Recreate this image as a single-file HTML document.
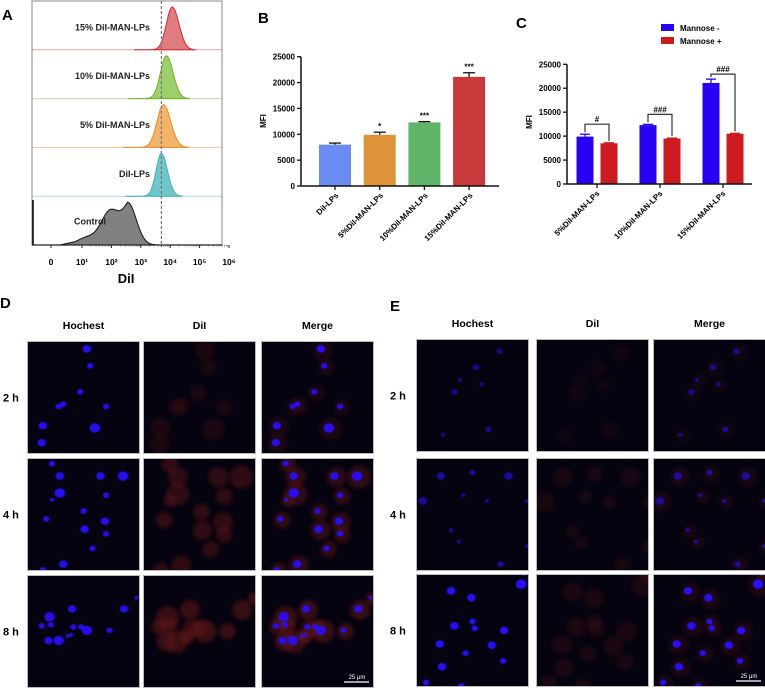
<!DOCTYPE html>
<html><head><meta charset="utf-8">
<style>
html,body{margin:0;padding:0;background:#fff;}
svg{display:block;font-family:"Liberation Sans",Arial,sans-serif;}
</style></head>
<body>
<svg id="fig" width="765" height="690" viewBox="0 0 765 690">
<defs>
<filter id="blurR" x="-50%" y="-50%" width="200%" height="200%"><feGaussianBlur stdDeviation="2"/></filter>
<filter id="blurB" x="-50%" y="-50%" width="200%" height="200%"><feGaussianBlur stdDeviation="0.5"/></filter>
</defs>
<g id="panelA"></g>
<g id="panelB"></g>
<g id="panelC"></g>
<g id="panelD"></g>
<g id="panelE"></g>
</svg>
<script>
// ---------- data ----------
const histLabels = ["15% DiI-MAN-LPs","10% DiI-MAN-LPs","5% DiI-MAN-LPs","DiI-LPs","Control"];
const histPeaks = [4.07, 3.87, 3.77, 3.7, 2.55];   // log10 of peak
const histWidths = [0.2, 0.2, 0.22, 0.18, 0.45];
const histFill = ["#e07b80","#9fcf6a","#f2b36b","#6fc7c9","#808080"];
const histLine = ["#d7262e","#69b52a","#ee8a22","#3ab5b8","#111111"];
const histTicks = ["0","10¹","10²","10³","10⁴","10⁵","10⁶"];

const bCats = ["DiI-LPs","5%DiI-MAN-LPs","10%DiI-MAN-LPs","15%DiI-MAN-LPs"];
const bVals = [8000, 9900, 12300, 21100];
const bErr = [300, 500, 150, 800];
const bSig = ["", "*", "***", "***"];
const bColors = ["#6a8cf0","#dd933a","#5fb46a","#c9383b"];
const yTicks = [0,5000,10000,15000,20000,25000];

const cCats = ["5%DiI-MAN-LPs","10%DiI-MAN-LPs","15%DiI-MAN-LPs"];
const cMinus = [9900, 12300, 21100];
const cMinusErr = [500, 150, 800];
const cPlus = [8500, 9500, 10500];
const cPlusErr = [100, 80, 80];
const cSig = ["#","###","###"];

const NS="http://www.w3.org/2000/svg";
function mk(parent,tag,attrs,text){const e=document.createElementNS(NS,tag);for(const k in attrs)e.setAttribute(k,attrs[k]);if(text!==undefined)e.textContent=text;parent.appendChild(e);return e;}

// ---------- Panel A ----------
(function(){
const g=document.getElementById('panelA');
const t=mk(g,'text',{x:2,y:20,'font-size':15,'font-weight':'bold'},'A');


const X0=32,X1=222,Y0=1,Y1=245;
const lx=v=>v<=0?51:82+(v-1)*29.4;
const stripH=(Y1-Y0)/5;
for(let i=0;i<5;i++){
  const top=Y0+i*stripH, base=top+stripH;
  const pk=histPeaks[i], w=histWidths[i];
  let d=`M${lx(pk-4*w-0.5)},${base}`;
  for(let s=-4;s<=4;s+=0.1){
    let v=pk+s*w;
    let hgt;
    if(i===4){
      hgt = s<0 ? Math.exp(-s*s/6)*(1+0.15*Math.sin(s*3)) : Math.exp(-s*s*1.2);
    } else hgt=Math.exp(-s*s/2);
    if(i!==4 && s>0) hgt=Math.exp(-s*s/2.6);
    d+=` L${lx(v).toFixed(1)},${(base-hgt*(stripH-6)).toFixed(1)}`;
  }
  d+=` L${lx(pk+4*w)},${base} Z`;
  const p=mk(g,'path',{d:d,fill:histFill[i],stroke:histLine[i],'stroke-width':1});
  
  
  if(i<4){
    const l=mk(g,'line',{x1:X0,x2:X1,y1:base,y2:base,stroke:histLine[i],'stroke-opacity':0.45,'stroke-width':1});
    
    
  }
  const lab=mk(g,'text',{x:i===4?106:150,y:top+stripH/2+(i===4?4:5),'font-size':9,'font-weight':'bold','text-anchor':'end',fill:'#222'},histLabels[i]);
  
  
}
const fr=mk(g,'rect',{x:X0,y:Y0,width:X1-X0,height:Y1-Y0,fill:'none',stroke:'#888','stroke-width':1});


const ax=mk(g,'line',{x1:X0,x2:X1,y1:Y1,y2:Y1,stroke:'#222','stroke-width':1.2});


mk(g,'line',{x1:X0+1,x2:X0+1,y1:200,y2:Y1,stroke:'#000','stroke-width':1.5});
const dl=mk(g,'line',{x1:lx(3.7),x2:lx(3.7),y1:Y0,y2:Y1+2,stroke:'#777','stroke-width':1.2,'stroke-dasharray':'3,2'});


for(let k=0;k<histTicks.length;k++){
  const x=lx(k);
  mk(g,'line',{x1:x,x2:x,y1:Y1,y2:Y1+3,stroke:'#222'});
  for(let m=2;m<10 && k>0 && k<6;m++){const xm=lx(k+Math.log10(m));mk(g,'line',{x1:xm,x2:xm,y1:Y1,y2:Y1+1.5,stroke:'#444','stroke-width':0.6});}
  const tl=mk(g,'text',{x:x,y:265,'font-size':8.5,'font-weight':'bold','text-anchor':'middle'},histTicks[k]);
  
  
}
const xt=mk(g,'text',{x:126,y:283,'font-size':13,'font-weight':'bold','text-anchor':'middle'},'DiI');


})();

// ---------- Panel B ----------
(function(){
const g=document.getElementById('panelB');
const t=mk(g,'text',{x:258,y:23,'font-size':15,'font-weight':'bold'},'B');


const X0=301,X1=499,Yb=186,Yt=56.7,max=25000;
const y=v=>Yb-(v/max)*(Yb-Yt);
const cx=i=>335+i*44.7;
yTicks.forEach(v=>{
  mk(g,'line',{x1:X0-4,x2:X0,y1:y(v),y2:y(v),stroke:'#111','stroke-width':1.3});
  const tl=mk(g,'text',{x:X0-6,y:y(v)+3,'font-size':8,'font-weight':'bold','text-anchor':'end'},v);
  
  
});
bVals.forEach((v,i)=>{
  const r=mk(g,'rect',{x:cx(i)-16,y:y(v),width:32,height:Yb-y(v),fill:bColors[i]});
  
  
  const ye=y(v+bErr[i]);
  mk(g,'line',{x1:cx(i),x2:cx(i),y1:y(v),y2:ye,stroke:'#111','stroke-width':1.3});
  mk(g,'line',{x1:cx(i)-6,x2:cx(i)+6,y1:ye,y2:ye,stroke:'#111','stroke-width':1.3});
  if(bSig[i]){const s=mk(g,'text',{x:cx(i),y:ye-3,'font-size':8,'font-weight':'bold','text-anchor':'middle'},bSig[i]);
    
    }
  mk(g,'line',{x1:cx(i),x2:cx(i),y1:Yb,y2:Yb+4,stroke:'#111','stroke-width':1.3});
  const xl=mk(g,'text',{x:0,y:0,'font-size':8,'font-weight':'bold','text-anchor':'end',transform:`translate(${cx(i)+4},${Yb+10}) rotate(-45)`},bCats[i]);
  
  
});
mk(g,'line',{x1:X0,x2:X0,y1:Yt,y2:Yb,stroke:'#111','stroke-width':1.5});
mk(g,'line',{x1:X0,x2:X1,y1:Yb,y2:Yb,stroke:'#111','stroke-width':1.5});
const yt=mk(g,'text',{x:0,y:0,'font-size':8,'font-weight':'bold','text-anchor':'middle',transform:'translate(266,121) rotate(-90)'},'MFI');


})();

// ---------- Panel C ----------
(function(){
const g=document.getElementById('panelC');
const t=mk(g,'text',{x:516,y:28,'font-size':15,'font-weight':'bold'},'C');


const X0=567,X1=752,Yb=184,Yt=64.3,max=25000;
const y=v=>Yb-(v/max)*(Yb-Yt);
const gx=i=>597+i*63;
yTicks.forEach(v=>{
  mk(g,'line',{x1:X0-4,x2:X0,y1:y(v),y2:y(v),stroke:'#111','stroke-width':1.3});
  const tl=mk(g,'text',{x:X0-6,y:y(v)+3,'font-size':8,'font-weight':'bold','text-anchor':'end'},v);
  
  
});
cCats.forEach((c,i)=>{
  const bx=gx(i)-12, rx=gx(i)+12;
  const b=mk(g,'rect',{x:bx-8.5,y:y(cMinus[i]),width:17,height:Yb-y(cMinus[i]),fill:'#2a00f5'});
  
  
  const r=mk(g,'rect',{x:rx-8.5,y:y(cPlus[i]),width:17,height:Yb-y(cPlus[i]),fill:'#cc1a1f'});
  
  
  const e1=y(cMinus[i]+cMinusErr[i]);
  mk(g,'line',{x1:bx,x2:bx,y1:y(cMinus[i]),y2:e1,stroke:'#2a00f5','stroke-width':1.3});
  mk(g,'line',{x1:bx-5,x2:bx+5,y1:e1,y2:e1,stroke:'#2a00f5','stroke-width':1.3});
  const e2=y(cPlus[i]+cPlusErr[i]);
  mk(g,'line',{x1:rx-5,x2:rx+5,y1:e2,y2:e2,stroke:'#cc1a1f','stroke-width':1.3});
  const top=y(Math.max(cMinus[i]+cMinusErr[i],cPlus[i]))-(i===2?5:10);
  const br=mk(g,'path',{d:`M${bx},${e1-2} V${top} H${rx} V${e2-2}`,fill:'none',stroke:'#333','stroke-width':1.2});
  
  
  const s=mk(g,'text',{x:gx(i),y:top-2,'font-size':8,'font-weight':'bold','text-anchor':'middle'},cSig[i]);
  
  
  mk(g,'line',{x1:gx(i),x2:gx(i),y1:Yb,y2:Yb+4,stroke:'#111','stroke-width':1.3});
  const xl=mk(g,'text',{x:0,y:0,'font-size':8,'font-weight':'bold','text-anchor':'end',transform:`translate(${gx(i)+3},${Yb+10}) rotate(-45)`},c);
  
  
});
mk(g,'line',{x1:X0,x2:X0,y1:Yt,y2:Yb,stroke:'#111','stroke-width':1.5});
mk(g,'line',{x1:X0,x2:X1,y1:Yb,y2:Yb,stroke:'#111','stroke-width':1.5});
const yt=mk(g,'text',{x:0,y:0,'font-size':8,'font-weight':'bold','text-anchor':'middle',transform:'translate(532,122) rotate(-90)'},'MFI');


const l1=mk(g,'rect',{x:661,y:24,width:13,height:7,fill:'#2a00f5'});


const l2=mk(g,'rect',{x:661,y:37,width:13,height:7,fill:'#cc1a1f'});


const t1=mk(g,'text',{x:680,y:31,'font-size':8,'font-weight':'bold'},'Mannose -');


const t2=mk(g,'text',{x:680,y:44,'font-size':8,'font-weight':'bold'},'Mannose +');


})();

// ---------- Microscopy ----------
const dCells=[
 [[0.53,0.07,4],[0.56,0.22,3],[0.47,0.45,3],[0.28,0.58,3],[0.32,0.56,3],[0.7,0.58,3],[0.14,0.75,4],[0.6,0.77,5],[0.13,0.9,4]],
 [[0.22,0.05,3],[0.29,0.16,4],[0.65,0.16,4],[0.85,0.16,5],[0.29,0.31,5],[0.7,0.33,3],[0.22,0.37,2],[0.5,0.47,3],[0.17,0.54,3],[0.51,0.63,4],[0.69,0.56,4],[0.7,0.67,3],[0.58,0.8,3],[0.32,0.94,4],[0.14,0.99,3]],
 [[0.4,0.3,4],[0.86,0.3,4],[0.97,0.2,2],[0.2,0.37,5],[0.13,0.45,3],[0.21,0.44,3],[0.41,0.46,3],[0.48,0.46,3],[0.53,0.49,5],[0.73,0.49,3],[0.36,0.54,2],[0.39,0.53,2],[0.28,0.58,5],[0.19,0.58,4]]
];
const eCells=[
 [[0.74,0.11,3],[0.53,0.25,3],[0.39,0.36,2],[0.58,0.4,2],[0.34,0.47,3],[0.64,0.8,3],[0.24,0.85,2]],
 [[0.22,0.16,4],[0.5,0.13,3],[0.82,0.16,4],[0.06,0.38,4],[0.42,0.33,2],[0.63,0.38,2],[0.31,0.64,2],[0.38,0.74,2],[0.75,0.94,3],[0.98,0.38,2],[0.98,0.78,2]],
 [[0.31,0.15,4],[0.49,0.21,4],[0.93,0.09,5],[0.96,0.0,2],[0.5,0.42,3],[0.34,0.46,4],[0.52,0.48,3],[0.78,0.5,4],[0.21,0.62,4],[0.67,0.63,4],[0.44,0.7,3],[0.77,0.77,3],[0.23,0.82,4],[0.09,0.96,3],[0.4,0.99,3]]
];
function micro(gid,label,lx,ly,colX,rowY,W,H,cells,blueOp,redOp,headY,rowLx){
  const g=document.getElementById(gid);
  const t=mk(g,'text',{x:lx,y:ly,'font-size':15,'font-weight':'bold'},label);
  
  
  ["Hochest","DiI","Merge"].forEach((h,c)=>{
    const ht=mk(g,'text',{x:colX[c]+W/2,y:headY,'font-size':10.5,'font-weight':'bold','text-anchor':'middle'},h);
    
    
  });
  ["2 h","4 h","8 h"].forEach((r,ri)=>{
    const rt=mk(g,'text',{x:rowLx,y:rowY[ri]+H/2+4,'font-size':11,'font-weight':'bold'},r);
    
    
    for(let c=0;c<3;c++){
      const x0=colX[c],y0=rowY[ri];
      const cl='clip'+gid+ri+c;
      const cp=mk(g,'clipPath',{id:cl});mk(cp,'rect',{x:x0,y:y0,width:W,height:H});
      const img=mk(g,'g',{'clip-path':`url(#${cl})`});
      
      
      mk(img,'rect',{x:x0,y:y0,width:W,height:H,fill:'#050310'});
      if(c>0){
        cells[ri].forEach(p=>{
          mk(img,'circle',{cx:x0+p[0]*W+2,cy:y0+p[1]*H+1,r:p[2]*1.6+3.5,fill:'#5a1812',opacity:redOp[ri],filter:'url(#blurR)'});
        });
      }
      if(c!==1){
        cells[ri].forEach(p=>{
          mk(img,'ellipse',{cx:x0+p[0]*W,cy:y0+p[1]*H,rx:p[2]*1.05,ry:p[2]*0.95,fill:'#2a10ff',opacity:blueOp[ri],filter:'url(#blurB)'});
        });
      }
      mk(g,'rect',{x:x0+0.5,y:y0+0.5,width:W-1,height:H-1,fill:'none',stroke:'#bbb','stroke-width':1});
      if(ri===2&&c===2){
        mk(g,'line',{x1:x0+W-30,x2:x0+W-5,y1:y0+H-6,y2:y0+H-6,stroke:'#fff','stroke-width':1.2});
        const sb=mk(g,'text',{x:x0+W-17,y:y0+H-9,'font-size':6,fill:'#fff','text-anchor':'middle'},'25 μm');
        
        
      }
    }
  });
}
micro('panelD','D',0,308,[27,143,261],[341,458,575],113,113,dCells,[0.95,0.95,0.9],[0.25,0.5,0.6],329,3);
micro('panelE','E',390,311,[416,536,653],[339,458,574],113,113,eCells,[0.55,0.6,1],[0.15,0.22,0.25],327,390);
</script>
</body></html>
